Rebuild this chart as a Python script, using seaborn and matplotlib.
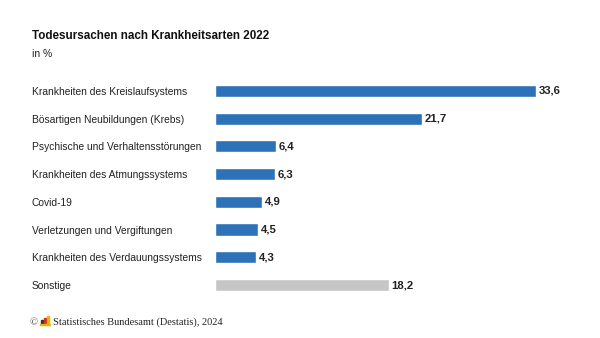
import matplotlib
matplotlib.use("Agg")
import matplotlib.pyplot as plt
from matplotlib.patches import Rectangle
import seaborn as sns
import pandas as pd

categories = [
    "Krankheiten des Kreislaufsystems",
    "Bösartigen Neubildungen (Krebs)",
    "Psychische und Verhaltensstörungen",
    "Krankheiten des Atmungssystems",
    "Covid-19",
    "Verletzungen und Vergiftungen",
    "Krankheiten des Verdauungssystems",
    "Sonstige",
]
values = [33.6, 21.7, 6.4, 6.3, 4.9, 4.5, 4.3, 18.2]
value_labels = ["33,6", "21,7", "6,4", "6,3", "4,9", "4,5", "4,3", "18,2"]

BLUE = "#2D72B8"
GREY = "#C6C6C6"
colors = [BLUE] * 7 + [GREY]

sns.set_theme(style="white")
plt.rcParams["font.family"] = ["Liberation Sans", "DejaVu Sans"]

df = pd.DataFrame({"cat": categories, "val": values})

fig = plt.figure(figsize=(6.0, 3.38), dpi=100)
ax = fig.add_axes([0.3583, 0.1157, 0.5917, 0.6563])

sns.barplot(data=df, x="val", y="cat", hue="cat", palette=colors,
            legend=False, width=0.44, ax=ax, saturation=1)

ax.set_xlim(0, 37.17)
ax.set_ylim(7.5, -0.5)
ax.set_xlabel("")
ax.set_ylabel("")
ax.set_xticks([])
sns.despine(ax=ax, left=True, bottom=True)

ax.set_yticks(range(len(categories)))
ax.set_yticklabels(categories, ha="left", fontsize=7.4, color="#222222")
ax.tick_params(axis="y", length=0, pad=131.8)

for i, (v, lab) in enumerate(zip(values, value_labels)):
    ax.text(v + 0.3, i, lab, va="center", ha="left", fontsize=8.2,
            fontweight="bold", color="#222222")

fig.text(32 / 600, 1 - 36 / 338, "Todesursachen nach Krankheitsarten 2022",
         fontsize=8.4, fontweight="bold", color="#111111", va="center", ha="left")
fig.text(32 / 600, 1 - 54 / 338, "in %", fontsize=7.5, color="#222222",
         va="center", ha="left")

# footer: copyright, small logo, source line
fig.text(29 / 600, 1 - 323 / 338, "©", fontsize=7.5, color="#444444",
         va="center", ha="left", family=["Liberation Serif", "DejaVu Serif"])
logo = [(41, 320, 1.6, 4, "#333333"), (44, 318, 1.6, 6, "#D42B1E"),
        (47, 316, 1.6, 8, "#E8B400")]
for x0, ytop, w, h, c in logo:
    fig.patches.append(Rectangle((x0 / 600, 1 - (ytop + h) / 338), w / 600, h / 338,
                                 transform=fig.transFigure, color=c, figure=fig))
fig.patches.append(Rectangle((40 / 600, 1 - 325 / 338), 10 / 600, 0.8 / 338,
                             transform=fig.transFigure, color="#E8B400", figure=fig))
fig.text(53 / 600, 1 - 322 / 338, "Statistisches Bundesamt (Destatis), 2024",
         fontsize=7.5, color="#222222", va="center", ha="left",
         family=["Liberation Serif", "DejaVu Serif"])

fig.savefig("out.png", dpi=100)
